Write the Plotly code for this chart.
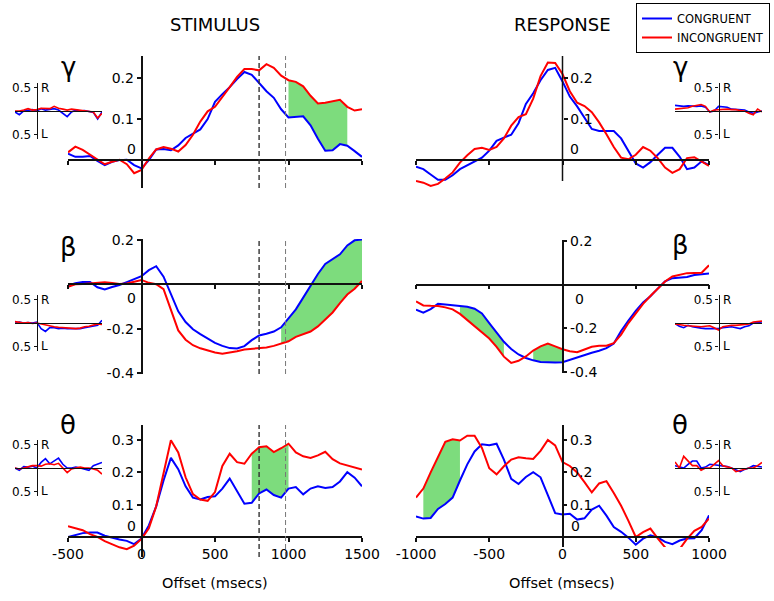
import plotly.graph_objects as go

W, H = 774, 601

# ---------------- data ----------------
stim_t = list(range(-500, 1501, 50))
resp_t = list(range(-1000, 1001, 50))
stim_inset_t = list(range(-500, 1501, 100))
resp_inset_t = list(range(-1000, 1001, 100))

series_names = ["CONGRUENT", "INCONGRUENT"]

gamma_stim_cong = [0.016, 0.008, 0.008, 0.010, -0.002, -0.012, -0.004, 0.000, 0.001, -0.012, -0.020,
                   0.000, 0.026, 0.027, 0.024, 0.036, 0.054, 0.065, 0.075, 0.100, 0.142, 0.161,
                   0.178, 0.198, 0.215, 0.208, 0.188, 0.168, 0.152, 0.124, 0.104, 0.106, 0.107,
                   0.085, 0.052, 0.023, 0.024, 0.039, 0.035, 0.022, 0.008]
gamma_stim_incong = [0.019, 0.033, 0.025, 0.013, 0.000, -0.010, -0.004, 0.001, -0.010, -0.032, -0.024,
                     0.004, 0.026, 0.032, 0.028, 0.021, 0.037, 0.062, 0.094, 0.119, 0.130, 0.153,
                     0.178, 0.203, 0.222, 0.222, 0.219, 0.234, 0.225, 0.206, 0.195, 0.191, 0.180,
                     0.157, 0.138, 0.140, 0.144, 0.147, 0.130, 0.121, 0.124]

gamma_resp_cong = [-0.016, -0.022, -0.035, -0.048, -0.048, -0.037, -0.022, -0.012, -0.004, 0.006, 0.023,
                   0.047, 0.055, 0.062, 0.090, 0.137, 0.163, 0.195, 0.220, 0.225, 0.192,
                   0.155, 0.131, 0.103, 0.076, 0.071, 0.071, 0.071, 0.053, 0.023, -0.008,
                   -0.018, -0.005, 0.013, 0.030, 0.030, 0.008, -0.022, -0.018, -0.003, -0.012]
gamma_resp_incong = [-0.051, -0.055, -0.063, -0.058, -0.045, -0.030, -0.006, 0.012, 0.027, 0.030, 0.025,
                     0.032, 0.053, 0.084, 0.105, 0.112, 0.150, 0.205, 0.238, 0.237, 0.210,
                     0.168, 0.140, 0.132, 0.117, 0.092, 0.063, 0.032, 0.006, 0.002, 0.013,
                     0.032, 0.023, 0.005, -0.018, -0.031, -0.022, 0.005, 0.007, -0.003, -0.014]

beta_stim_cong = [-0.005, 0.005, 0.011, 0.011, -0.013, -0.023, -0.012, -0.003, 0.010, 0.024, 0.037,
                  0.064, 0.082, 0.035, -0.045, -0.122, -0.170, -0.203, -0.225, -0.246, -0.264,
                  -0.278, -0.288, -0.290, -0.279, -0.252, -0.231, -0.223, -0.213, -0.194, -0.153,
                  -0.113, -0.060, -0.007, 0.047, 0.092, 0.113, 0.136, 0.176, 0.199, 0.203]
beta_stim_incong = [-0.011, 0.000, 0.002, 0.004, 0.009, 0.010, 0.006, 0.002, 0.004, 0.012, 0.020,
                    0.007, 0.001, -0.022, -0.120, -0.208, -0.250, -0.275, -0.289, -0.300, -0.308,
                    -0.313, -0.308, -0.302, -0.294, -0.292, -0.290, -0.285, -0.278, -0.268, -0.257,
                    -0.237, -0.225, -0.213, -0.190, -0.160, -0.127, -0.085, -0.046, -0.020, 0.015]

beta_resp_cong = [-0.114, -0.128, -0.112, -0.088, -0.091, -0.095, -0.098, -0.101, -0.110, -0.132, -0.176,
                  -0.221, -0.262, -0.295, -0.320, -0.336, -0.347, -0.354, -0.356, -0.357, -0.356,
                  -0.345, -0.332, -0.320, -0.312, -0.303, -0.291, -0.270, -0.212, -0.165, -0.120,
                  -0.082, -0.053, -0.018, 0.015, 0.030, 0.032, 0.035, 0.044, 0.048, 0.051]
beta_resp_incong = [-0.077, -0.095, -0.097, -0.098, -0.104, -0.113, -0.134, -0.162, -0.190, -0.218, -0.247,
                    -0.285, -0.330, -0.359, -0.349, -0.329, -0.302, -0.283, -0.270, -0.283, -0.296,
                    -0.305, -0.310, -0.297, -0.285, -0.280, -0.280, -0.268, -0.229, -0.176, -0.130,
                    -0.088, -0.052, -0.016, 0.015, 0.038, 0.046, 0.053, 0.054, 0.055, 0.089]

theta_stim_cong = [0.000, 0.005, 0.012, 0.014, 0.014, 0.004, -0.003, -0.008, -0.012, -0.022, -0.005,
                   0.036, 0.095, 0.175, 0.245, 0.210, 0.157, 0.122, 0.116, 0.124, 0.126,
                   0.150, 0.181, 0.144, 0.103, 0.106, 0.135, 0.147, 0.130, 0.122, 0.150,
                   0.155, 0.132, 0.150, 0.157, 0.152, 0.155, 0.172, 0.201, 0.184, 0.157]
theta_stim_incong = [0.033, 0.027, 0.021, 0.009, 0.000, -0.013, -0.023, -0.032, -0.038, -0.027, -0.006,
                     0.027, 0.095, 0.195, 0.300, 0.262, 0.185, 0.133, 0.116, 0.112, 0.139,
                     0.220, 0.258, 0.232, 0.227, 0.258, 0.278, 0.281, 0.263, 0.275, 0.289,
                     0.262, 0.250, 0.245, 0.253, 0.264, 0.241, 0.228, 0.222, 0.214, 0.209]

theta_resp_cong = [0.064, 0.057, 0.059, 0.087, 0.102, 0.122, 0.175, 0.225, 0.265, 0.287, 0.284,
                   0.289, 0.240, 0.180, 0.164, 0.186, 0.201, 0.185, 0.130, 0.074, 0.070,
                   0.072, 0.054, 0.058, 0.085, 0.097, 0.066, 0.031, 0.016, -0.002, -0.024,
                   -0.005, 0.005, -0.001, -0.015, -0.022, -0.011, -0.005, -0.004, 0.021, 0.067]
theta_resp_incong = [0.122, 0.150, 0.200, 0.250, 0.295, 0.303, 0.299, 0.314, 0.314, 0.276, 0.213,
                     0.194, 0.219, 0.240, 0.247, 0.244, 0.242, 0.267, 0.301, 0.284, 0.232,
                     0.220, 0.200, 0.170, 0.138, 0.166, 0.173, 0.136, 0.097, 0.050, 0.000,
                     0.015, 0.026, -0.004, -0.032, -0.052, -0.037, -0.006, 0.019, 0.031, 0.057]

# lateralisation insets (R positive, L negative)
gamma_stim_lat_cong = [-0.02, -0.08, 0.00, 0.02, 0.03, 0.00, 0.05, 0.02, 0.03, 0.05, 0.02,
                       -0.05, -0.12, -0.02, 0.02, 0.00, 0.01, -0.01, -0.03, -0.17, -0.02]
gamma_stim_lat_incong = [0.00, 0.00, 0.02, 0.05, 0.02, 0.03, 0.06, 0.06, 0.05, 0.10, 0.06,
                         0.04, 0.02, 0.04, 0.03, 0.02, 0.00, 0.00, -0.02, -0.15, -0.05]
beta_stim_lat_cong = [0.00, 0.02, 0.00, 0.01, 0.00, 0.02, -0.12, -0.18, -0.10, -0.10, -0.12,
                      -0.11, -0.12, -0.12, -0.11, -0.12, -0.10, -0.08, -0.06, -0.05, 0.06]
beta_stim_lat_incong = [0.03, 0.02, 0.00, 0.01, -0.01, 0.00, -0.02, -0.05, -0.07, -0.08, -0.09,
                        -0.10, -0.10, -0.11, -0.12, -0.11, -0.08, -0.07, -0.04, -0.02, -0.03]
theta_stim_lat_cong = [0.00, -0.05, 0.03, 0.02, 0.04, 0.00, 0.12, 0.20, 0.09, 0.15, 0.21,
                       0.08, 0.00, 0.00, 0.02, 0.00, -0.02, -0.05, 0.05, 0.08, 0.12]
theta_stim_lat_incong = [0.00, -0.02, 0.00, 0.02, 0.05, 0.05, 0.04, 0.08, 0.09, 0.07, 0.10,
                         0.00, -0.10, -0.02, 0.00, 0.02, 0.00, 0.00, -0.02, -0.05, -0.13]
gamma_resp_lat_cong = [0.12, 0.11, 0.10, 0.11, 0.10, 0.10, 0.11, 0.08, -0.02, 0.00, 0.10,
                       0.09, 0.08, 0.04, 0.03, 0.03, 0.02, -0.02, -0.05, -0.02, 0.00]
gamma_resp_lat_incong = [0.04, 0.05, 0.06, 0.07, 0.10, 0.12, 0.14, 0.10, -0.02, 0.02, 0.03,
                         0.03, 0.04, 0.03, 0.03, 0.01, 0.00, -0.05, -0.08, 0.04, -0.02]
beta_resp_lat_cong = [-0.01, -0.07, -0.10, -0.05, -0.08, -0.10, -0.11, -0.12, -0.12, -0.12, -0.12,
                      -0.10, -0.09, -0.08, -0.10, -0.12, -0.08, -0.06, 0.00, 0.01, 0.00]
beta_resp_lat_incong = [-0.02, -0.04, -0.05, -0.06, -0.07, -0.08, -0.08, -0.07, -0.06, -0.10, -0.15,
                        -0.08, -0.06, -0.05, -0.05, -0.04, -0.03, -0.02, 0.02, 0.03, 0.04]
theta_resp_lat_cong = [0.05, 0.03, 0.00, 0.08, 0.15, 0.15, 0.00, 0.02, 0.08, 0.07, 0.06,
                       0.05, 0.03, 0.00, -0.04, -0.08, -0.03, 0.00, 0.05, 0.04, 0.02]
theta_resp_lat_incong = [0.13, 0.00, 0.25, 0.15, 0.05, 0.05, -0.05, 0.00, 0.00, 0.08, 0.16,
                         0.05, 0.02, 0.00, -0.08, -0.05, -0.02, 0.00, 0.00, 0.05, 0.12]

# significant intervals (ms)
gamma_stim_sig = [(1000, 1400)]
beta_stim_sig = [(950, 1500)]
theta_stim_sig = [(750, 1000)]
gamma_resp_sig = []
beta_resp_sig = [(-700, -400), (-200, 0)]
theta_resp_sig = [(-950, -700)]

stim_markers = [800, 980]
stim_xticks = [-500, 0, 500, 1000, 1500]
resp_xticks = [-1000, -500, 0, 500, 1000]

# ---------------- style ----------------
BLUE = "#0000ff"
RED = "#ff0000"
GREEN = "#7ddc7d"
AX = "#111111"
FONT = "DejaVu Sans"
TICK_SIZE = 14


def px_x(p):
    return p / W


def px_y(p):
    return 1 - p / H


panels = [
    dict(t=stim_t, c=gamma_stim_cong, i=gamma_stim_incong, sig=gamma_stim_sig, xpx=(68, 362), ypx=(56, 188),
         yr=(-0.068, 0.254), ybot=None, yt=[0.1, 0.2], side="left", xlab=False, xt=stim_xticks, marks=True,
         zero=dict(xanchor="right", yanchor="bottom", xshift=-4, yshift=1), greek="γ", gpx=(68, 67)),
    dict(t=resp_t, c=gamma_resp_cong, i=gamma_resp_incong, sig=gamma_resp_sig, xpx=(416, 709), ypx=(56, 188),
         yr=(-0.068, 0.254), ybot=-0.051, yt=[0.1, 0.2], side="right", xlab=False, xt=resp_xticks, marks=False,
         zero=dict(xanchor="left", yanchor="bottom", xshift=5, yshift=1), greek="γ", gpx=(680, 67)),
    dict(t=stim_t, c=beta_stim_cong, i=beta_stim_incong, sig=beta_stim_sig, xpx=(68, 362), ypx=(239, 374),
         yr=(-0.405, 0.205), ybot=None, yt=[-0.4, -0.2, 0.2], side="left", xlab=False, xt=stim_xticks, marks=True,
         zero=dict(xanchor="right", yanchor="top", xshift=-4, yshift=-4), greek="β", gpx=(68, 247)),
    dict(t=resp_t, c=beta_resp_cong, i=beta_resp_incong, sig=beta_resp_sig, xpx=(416, 709), ypx=(240, 373),
         yr=(-0.405, 0.205), ybot=None, yt=[-0.4, -0.2, 0.2], side="right", xlab=False, xt=resp_xticks, marks=False,
         zero=dict(xanchor="left", yanchor="top", xshift=10, yshift=-4), greek="β", gpx=(680, 245)),
    dict(t=stim_t, c=theta_stim_cong, i=theta_stim_incong, sig=theta_stim_sig, xpx=(68, 362), ypx=(425, 557),
         yr=(-0.062, 0.347), ybot=None, yt=[0.1, 0.2, 0.3], side="left", xlab=True, xt=stim_xticks, marks=True,
         zero=dict(xanchor="right", yanchor="bottom", xshift=-4, yshift=1), greek="θ", gpx=(68, 425)),
    dict(t=resp_t, c=theta_resp_cong, i=theta_resp_incong, sig=theta_resp_sig, xpx=(416, 709), ypx=(425, 547),
         yr=(-0.031, 0.347), ybot=None, yt=[0.1, 0.2, 0.3], side="right", xlab=True, xt=resp_xticks, marks=False,
         zero=dict(xanchor="left", yanchor="bottom", xshift=6, yshift=1), greek="θ", gpx=(680, 425)),
]

insets = [
    dict(t=stim_inset_t, c=gamma_stim_lat_cong, i=gamma_stim_lat_incong, xpx=(15, 102), cy=111),
    dict(t=resp_inset_t, c=gamma_resp_lat_cong, i=gamma_resp_lat_incong, xpx=(675, 762), cy=111),
    dict(t=stim_inset_t, c=beta_stim_lat_cong, i=beta_stim_lat_incong, xpx=(15, 102), cy=323),
    dict(t=resp_inset_t, c=beta_resp_lat_cong, i=beta_resp_lat_incong, xpx=(675, 762), cy=323),
    dict(t=stim_inset_t, c=theta_stim_lat_cong, i=theta_stim_lat_incong, xpx=(15, 102), cy=468),
    dict(t=resp_inset_t, c=theta_resp_lat_cong, i=theta_resp_lat_incong, xpx=(675, 762), cy=468),
]

fig = go.Figure()
layout = dict(width=W, height=H, margin=dict(l=0, r=0, t=0, b=0), paper_bgcolor="white",
              plot_bgcolor="rgba(0,0,0,0)", font=dict(family=FONT, color="black", size=TICK_SIZE),
              showlegend=True, hovermode=False)
shapes = []
annotations = []


def axis_names(k):
    return ("xaxis" if k == 1 else f"xaxis{k}", "yaxis" if k == 1 else f"yaxis{k}",
            "x" if k == 1 else f"x{k}", "y" if k == 1 else f"y{k}")


def fmt(v):
    return f"{v:g}"


k = 0
for n, p in enumerate(panels):
    k += 1
    xa, ya, xr_, yr_ = axis_names(k)
    t = p["t"]
    # significant difference bands
    for lo, hi in p["sig"]:
        idx = [j for j, v in enumerate(t) if lo <= v <= hi]
        xs = [t[j] for j in idx] + [t[j] for j in reversed(idx)]
        ys = [p["i"][j] for j in idx] + [p["c"][j] for j in reversed(idx)]
        fig.add_trace(go.Scatter(x=xs, y=ys, fill="toself", fillcolor=GREEN, mode="lines",
                                 line=dict(width=0, color=GREEN), showlegend=False,
                                 xaxis=xr_, yaxis=yr_))
    fig.add_trace(go.Scatter(x=t, y=p["c"], mode="lines", line=dict(color=BLUE, width=2),
                             name=series_names[0], legendgroup="c", showlegend=(n == 0),
                             xaxis=xr_, yaxis=yr_))
    fig.add_trace(go.Scatter(x=t, y=p["i"], mode="lines", line=dict(color=RED, width=2),
                             name=series_names[1], legendgroup="i", showlegend=(n == 0),
                             xaxis=xr_, yaxis=yr_))
    xd = [px_x(p["xpx"][0]), px_x(p["xpx"][1])]
    yd = [px_y(p["ypx"][1]), px_y(p["ypx"][0])]
    xrng = [t[0], t[-1]]
    yrng = list(p["yr"])
    y0pos = yd[0] + (0 - yrng[0]) / (yrng[1] - yrng[0]) * (yd[1] - yd[0])
    x0pos = xd[0] + (0 - xrng[0]) / (xrng[1] - xrng[0]) * (xd[1] - xd[0])
    layout[xa] = dict(domain=xd, range=xrng, anchor="free", position=y0pos, showline=True,
                      linecolor=AX, linewidth=1.5, ticks="outside", ticklen=4, tickcolor=AX,
                      tickwidth=1.5, tickvals=p["xt"], ticktext=[fmt(v) for v in p["xt"]],
                      showticklabels=p["xlab"], showgrid=False, zeroline=False, automargin=False,
                      tickfont=dict(size=TICK_SIZE), fixedrange=True)
    layout[ya] = dict(domain=yd, range=yrng, anchor="free", position=x0pos, side=p["side"],
                      showline=p["ybot"] is None, linecolor=AX, linewidth=1.5, ticks="outside", ticklen=4,
                      tickcolor=AX, tickwidth=1.5, tickvals=p["yt"], ticktext=[fmt(v) for v in p["yt"]],
                      showgrid=False, zeroline=False, automargin=False, tickfont=dict(size=TICK_SIZE),
                      fixedrange=True)
    if p["ybot"] is not None:
        # vertical axis line that stops short of the bottom of the panel
        shapes.append(dict(type="line", xref=xr_, yref=yr_, x0=0, x1=0, y0=p["ybot"], y1=yrng[1],
                           line=dict(color=AX, width=1.5)))
    if p["marks"]:
        for m, (col, wid) in zip(stim_markers, [("#333333", 1.4), ("#777777", 1.0)]):
            shapes.append(dict(type="line", xref=xr_, yref=f"{yr_} domain", x0=m, x1=m, y0=0, y1=1,
                               line=dict(color=col, width=wid, dash="5px,3px")))
    z = p["zero"]
    annotations.append(dict(text="0", x=0, y=0, xref=xr_, yref=yr_, showarrow=False,
                            xanchor=z["xanchor"], yanchor=z["yanchor"], xshift=z["xshift"],
                            yshift=z["yshift"], font=dict(size=TICK_SIZE)))
    annotations.append(dict(text=p["greek"], x=px_x(p["gpx"][0]), y=px_y(p["gpx"][1]), xref="paper",
                            yref="paper", showarrow=False, xanchor="center", yanchor="middle",
                            font=dict(size=26)))

for p in insets:
    k += 1
    xa, ya, xr_, yr_ = axis_names(k)
    t = p["t"]
    fig.add_trace(go.Scatter(x=t, y=p["c"], mode="lines", line=dict(color=BLUE, width=1.6),
                             showlegend=False, xaxis=xr_, yaxis=yr_))
    fig.add_trace(go.Scatter(x=t, y=p["i"], mode="lines", line=dict(color=RED, width=1.6),
                             showlegend=False, xaxis=xr_, yaxis=yr_))
    xd = [px_x(p["xpx"][0]), px_x(p["xpx"][1])]
    yd = [px_y(p["cy"] + 28), px_y(p["cy"] - 28)]
    xrng = [t[0], t[-1]]
    x0pos = xd[0] + (0 - xrng[0]) / (xrng[1] - xrng[0]) * (xd[1] - xd[0])
    layout[xa] = dict(domain=xd, range=xrng, anchor="free", position=(yd[0] + yd[1]) / 2,
                      showline=True, linecolor=AX, linewidth=1.3, ticks="", showticklabels=False,
                      showgrid=False, zeroline=False, automargin=False, fixedrange=True)
    layout[ya] = dict(domain=yd, range=[-0.6, 0.6], anchor="free", position=x0pos, side="left",
                      showline=True, linecolor=AX, linewidth=1.3, ticks="outside", ticklen=3,
                      tickcolor=AX, tickvals=[-0.5, 0.5], ticktext=["0.5", "0.5"],
                      tickfont=dict(size=12), showgrid=False, zeroline=False, automargin=False,
                      fixedrange=True)
    for val, lab in [(0.5, "R"), (-0.5, "L")]:
        annotations.append(dict(text=lab, x=0, y=val, xref=xr_, yref=yr_, showarrow=False,
                                xanchor="left", yanchor="middle", xshift=2, font=dict(size=12)))

for txt, cx in [("STIMULUS", 215), ("RESPONSE", 562)]:
    annotations.append(dict(text=txt, x=px_x(cx), y=px_y(25), xref="paper", yref="paper",
                            showarrow=False, xanchor="center", yanchor="middle", font=dict(size=18)))
for cx in [215, 562]:
    annotations.append(dict(text="Offset (msecs)", x=px_x(cx), y=px_y(583), xref="paper",
                            yref="paper", showarrow=False, xanchor="center", yanchor="middle",
                            font=dict(size=14.5)))

layout["legend"] = dict(x=px_x(636), y=px_y(3), xanchor="left", yanchor="top", bgcolor="white",
                        bordercolor="black", borderwidth=1, font=dict(size=11.5), itemwidth=30,
                        tracegroupgap=0)
layout["shapes"] = shapes
layout["annotations"] = annotations
fig.update_layout(**layout)
fig.write_html("out.html")
